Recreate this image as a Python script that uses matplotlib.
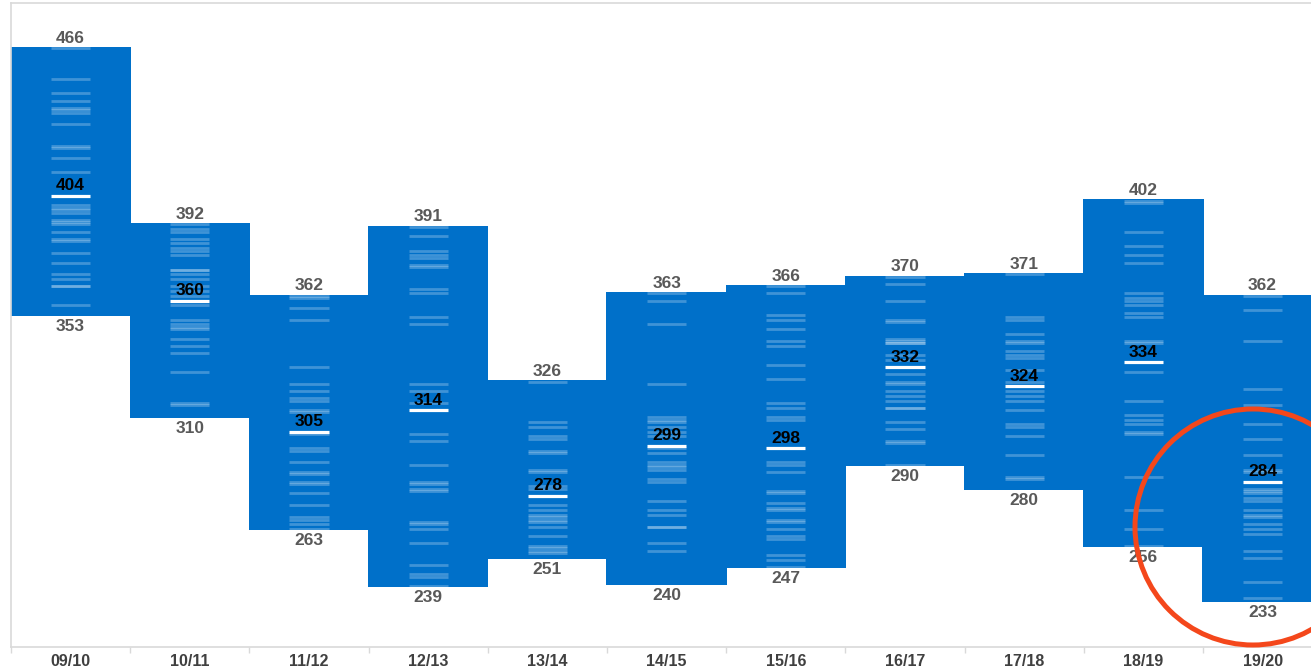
import matplotlib
matplotlib.use("Agg")
import matplotlib.pyplot as plt
from matplotlib.patches import Circle
import numpy as np

# seasons and summary values
seasons = ['09/10', '10/11', '11/12', '12/13', '13/14', '14/15',
           '15/16', '16/17', '17/18', '18/19', '19/20']
max_vals = [466, 392, 362, 391, 326, 363, 366, 370, 371, 402, 362]
min_vals = [353, 310, 263, 239, 251, 240, 247, 290, 280, 256, 233]
medians = [404, 360, 305, 314, 278, 299, 298, 332, 324, 334, 284]

# individual values (the faint strips inside each box)
pts_0910 = [466, 453, 447, 444, 441, 440, 439, 434, 425, 424, 420, 414, 400, 399, 398, 397,
            394, 393, 392, 389, 386, 385, 380, 376, 371, 369, 366, 366, 358]
pts_1011 = [392, 390, 389, 386, 384, 382, 381, 379, 373, 373, 371, 369, 366, 364, 362,
            358, 352, 350, 349, 348, 344, 341, 338, 330, 317, 316]
pts_1112 = [362, 361, 357, 352, 332, 325, 322, 319, 318, 314, 313, 304, 298, 297, 292,
            288, 287, 284, 283, 279, 274, 269, 268, 266, 264]
pts_1213 = [391, 387, 381, 379, 378, 375, 374, 365, 363, 353, 350, 325, 322, 317, 304, 301,
            291, 284, 283, 281, 280, 267, 266, 264, 258, 249, 245, 244, 240]
pts_1314 = [326, 309, 307, 303, 302, 297, 296, 289, 288, 282, 281, 274, 272, 270, 269,
            268, 267, 265, 261, 257, 256, 255, 254]
pts_1415 = [363, 360, 350, 325, 311, 310, 309, 307, 305, 303, 298, 296, 292, 291, 290,
            289, 285, 284, 276, 272, 270, 265, 265, 258, 255, 240]
pts_1516 = [366, 363, 354, 352, 348, 343, 341, 333, 327, 317, 315, 311, 310, 292, 291,
            288, 280, 279, 275, 273, 272, 268, 267, 264, 261, 260, 253, 251, 248]
pts_1617 = [370, 367, 360, 352, 351, 344, 343, 342, 342, 337, 335, 329, 326, 325, 322,
            320, 318, 315, 315, 309, 306, 301, 300, 291]
pts_1718 = [371, 353, 352, 346, 343, 342, 339, 337, 336, 331, 326, 322, 320, 318, 314,
            308, 307, 303, 295, 286, 285]
pts_1819 = [402, 401, 389, 383, 379, 376, 363, 361, 360, 358, 355, 353, 343, 342, 330,
            318, 312, 310, 308, 305, 304, 286, 272, 264, 257]
pts_1920 = [362, 356, 343, 323, 316, 308, 302, 295, 289, 288, 281, 280, 279, 277, 276,
            272, 270, 269, 266, 264, 262, 255, 252, 242, 235]
points = [pts_0910, pts_1011, pts_1112, pts_1213, pts_1314, pts_1415,
          pts_1516, pts_1617, pts_1718, pts_1819, pts_1920]

BLUE = '#0070C9'
GRID = '#d9d9d9'
plt.rcParams['font.family'] = ['Liberation Sans', 'DejaVu Sans']

fig = plt.figure(figsize=(13.11, 6.69), dpi=100)
# axes runs a little past the right edge, the last box is cut off like the original
ax = fig.add_axes([11 / 1311, 22 / 669, 1311.2 / 1311, 644 / 669])

x = np.arange(len(seasons))
half = 0.165

# range boxes
ax.bar(x, np.array(max_vals) - np.array(min_vals), bottom=min_vals, width=1.01,
       color=BLUE, linewidth=0, zorder=1)

for i in x:
    ys = np.array(points[i]) - 0.5
    ax.hlines(ys, i - half, i + half, colors='white', alpha=0.25, lw=2.0, zorder=2)
    ax.hlines(medians[i] - 0.5, i - half, i + half, colors='white', lw=2.3, zorder=3)

    ax.annotate(str(max_vals[i]), (i, max_vals[i]), xytext=(0, 3), textcoords='offset points',
                ha='center', va='baseline', fontsize=12.5, fontweight='bold', color='#595959')
    ax.annotate(str(min_vals[i]), (i, min_vals[i]), xytext=(0, -2), textcoords='offset points',
                ha='center', va='top', fontsize=12.5, fontweight='bold', color='#595959')
    ax.annotate(str(medians[i]), (i, medians[i] - 0.5), xytext=(0, 4), textcoords='offset points',
                ha='center', va='baseline', fontsize=12.5, fontweight='bold', color='black')

ax.set_xlim(-0.5, len(seasons) - 0.5)
ax.set_ylim(214, 484.5)
ax.set_yticks([])

# boundary ticks (unlabelled) + centered labels
ax.set_xticks(np.arange(-0.5, len(seasons), 1.0))
ax.set_xticklabels([])
ax.set_xticks(x, minor=True)
ax.set_xticklabels(seasons, minor=True, fontsize=11.5, fontweight='bold', color='#404040')
ax.tick_params(axis='x', which='major', length=4, color=GRID, width=1, pad=2)
ax.tick_params(axis='x', which='minor', length=0, pad=5)

for side in ['left', 'top', 'bottom']:
    ax.spines[side].set_color(GRID)
    ax.spines[side].set_linewidth(1.2)
ax.spines['right'].set_visible(False)

# red highlight circle around the last season
fig.add_artist(Circle((12.53, 6.69 - 5.27), 1.18, transform=fig.dpi_scale_trans,
                      fill=False, edgecolor='#F4471B', linewidth=3.6, zorder=10))

fig.savefig('out.png', dpi=100)
